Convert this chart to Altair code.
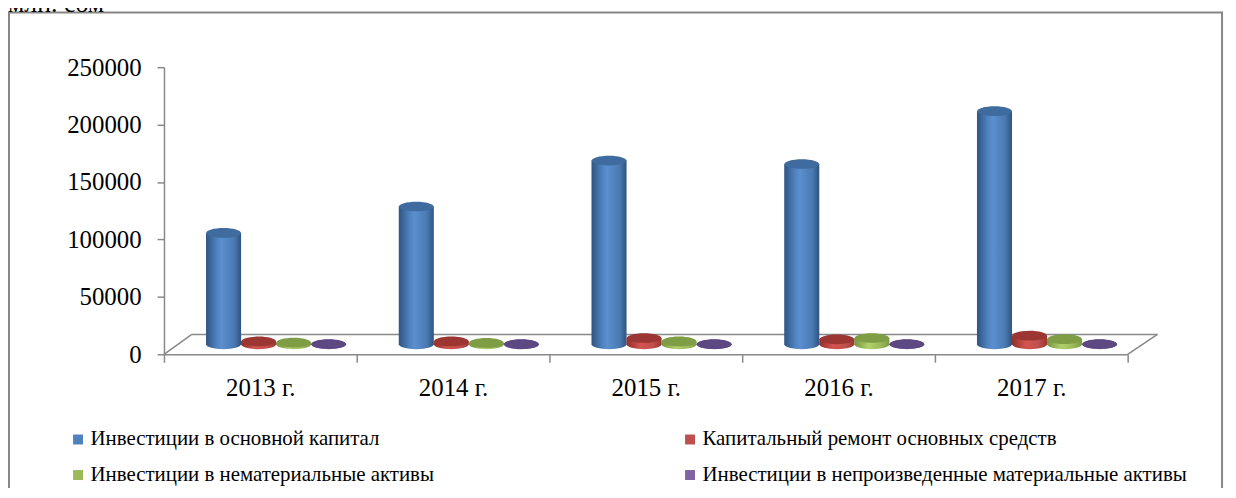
import altair as alt
import pandas as pd

# ---------------- data ----------------
years = ["2013 г.", "2014 г.", "2015 г.", "2016 г.", "2017 г."]
series_names = [
    "Инвестиции в основной капитал",
    "Капитальный ремонт основных средств",
    "Инвестиции в нематериальные активы",
    "Инвестиции в непроизведенные материальные активы",
]
fixed_capital = [97000, 120000, 160000, 157000, 203000]
capital_repair = [2500, 2500, 5500, 4300, 7500]
intangible = [1500, 1200, 2500, 5500, 4500]
non_produced = [200, 150, 150, 200, 250]
y_ticks = [0, 50000, 100000, 150000, 200000, 250000]
unit_label = "млн. сом"

series_values = [fixed_capital, capital_repair, intangible, non_produced]

# ---------------- styles ----------------
base_colors = ["#4F81BD", "#C0504D", "#9BBB59", "#8064A2"]
cap_colors = ["#3F6B9E", "#9C3633", "#7E9D45", "#5E4882"]
side_stops = [
    [("#2E5482", 0), ("#4F81BD", 0.3), ("#5B8FD0", 0.45), ("#4A7AB2", 0.8), ("#2E5380", 1)],
    [("#8F2F2C", 0), ("#D45450", 0.4), ("#C0504D", 0.75), ("#9A3532", 1)],
    [("#77933F", 0), ("#AFD16C", 0.4), ("#9BBB59", 0.75), ("#7C9A43", 1)],
    [("#5B4378", 0), ("#9479BB", 0.4), ("#8064A2", 0.75), ("#5E477C", 1)],
]
FONT = "Liberation Serif"
AXIS_GRAY = "#898989"
ELLIPSE = ("M -1 0 C -1 -0.1546 -0.5523 -0.28 0 -0.28 C 0.5523 -0.28 1 -0.1546 1 0 "
           "C 1 0.1546 0.5523 0.28 0 0.28 C -0.5523 0.28 -1 0.1546 -1 0 Z")
W, H = 970, 289
BAR_W = 35
DEPTH_SHIFT = 8700  # cylinders stand in the middle of the 3D floor (about 10 px up)

rows = []
for s, vals in zip(series_names, series_values):
    for yr, v in zip(years, vals):
        rows.append({"year": yr, "series": s, "value": v})
df = pd.DataFrame(rows)
one = pd.DataFrame({"k": [0]})

x_enc = alt.X(
    "year:N",
    sort=years,
    scale=alt.Scale(domain=years, paddingInner=0, paddingOuter=0),
    axis=alt.Axis(
        title=None, labelAngle=0, labelFont=FONT, labelFontSize=25, labelColor="black",
        domainColor=AXIS_GRAY, domainWidth=1.5, tickColor=AXIS_GRAY, tickWidth=1.5,
        tickSize=8, tickBand="extent", labelPadding=13, grid=False,
    ),
)
xoff_enc = alt.XOffset(
    "series:N", sort=series_names,
    scale=alt.Scale(domain=series_names, paddingInner=0, paddingOuter=0.75, align=0.8),
)
y_scale = alt.Scale(domain=[0, 250000], nice=False)
y_axis = alt.Axis(
    title=None, values=y_ticks, format="d", labelFont=FONT, labelFontSize=25,
    labelColor="black", domainColor=AXIS_GRAY, domainWidth=1.5, tickColor=AXIS_GRAY,
    tickWidth=1.5, tickSize=7, labelPadding=16, grid=False,
)
cyl_scale = alt.Scale(domain=[-DEPTH_SHIFT, 250000 - DEPTH_SHIFT], nice=False, zero=False)


def grad(stops):
    return alt.Gradient(
        gradient="linear",
        stops=[alt.GradientStop(color=c, offset=o) for c, o in stops],
        x1=0, x2=1, y1=0, y2=0,
    )


frame_layers = []
# frame around the whole chart
frame_layers.append(
    alt.Chart(one).mark_rect(fillOpacity=0, stroke="#868686", strokeWidth=2).encode(
        x=alt.value(-156), x2=alt.value(1065), y=alt.value(-55), y2=alt.value(470)
    )
)
# unit label above the frame
frame_layers.append(
    alt.Chart(one).mark_text(
        text=unit_label, align="left", baseline="alphabetic", font=FONT, fontSize=26, color="black"
    ).encode(x=alt.value(-157), y=alt.value(-56))
)
# 3D floor outline (decoration)
floor = alt.Chart(one).mark_rule(color=AXIS_GRAY, strokeWidth=1.5)
frame_layers.append(floor.encode(x=alt.value(28), x2=alt.value(1000), y=alt.value(H - 20), y2=alt.value(H - 20)))
frame_layers.append(floor.encode(x=alt.value(0), x2=alt.value(28), y=alt.value(H), y2=alt.value(H - 20)))
frame_layers.append(floor.encode(x=alt.value(W), x2=alt.value(1000), y=alt.value(H), y2=alt.value(H - 20)))

# legend + axis carrier (invisible marks)
frame_layers.append(
    alt.Chart(df).mark_square(size=0, opacity=1).encode(
        x=x_enc, xOffset=xoff_enc,
        y=alt.Y("value:Q", scale=y_scale, axis=y_axis),
        color=alt.Color(
            "series:N", sort=series_names,
            scale=alt.Scale(domain=series_names, range=base_colors),
            legend=alt.Legend(
                title=None, orient="none", legendX=-97, legendY=364, columns=2,
                direction="horizontal", labelFont=FONT, labelFontSize=21, labelColor="black",
                labelLimit=700, symbolType="square", symbolSize=100, symbolStrokeWidth=0,
                symbolOpacity=1, labelOffset=2, columnPadding=247, rowPadding=14, padding=0,
            ),
        ),
    )
)

# cylinders
cyl_layers = []
for i, s in enumerate(series_names):
    base = alt.Chart(df).transform_filter(alt.datum.series == s)
    g = grad(side_stops[i])
    bottom = base.mark_point(
        shape=ELLIPSE, filled=True, size=BAR_W * BAR_W, opacity=1, color=g,
    ).encode(x=x_enc, xOffset=xoff_enc, y=alt.Y(datum=0, scale=cyl_scale, axis=None))
    side = base.mark_bar(color=g, opacity=1).encode(
        x=x_enc, xOffset=xoff_enc,
        y=alt.Y("value:Q", stack=None, scale=cyl_scale, axis=None),
        y2=alt.Y2(datum=0),
    )
    top = base.mark_point(
        shape=ELLIPSE, filled=True, size=BAR_W * BAR_W, opacity=1, color=cap_colors[i],
    ).encode(x=x_enc, xOffset=xoff_enc, y=alt.Y("value:Q", scale=cyl_scale, axis=None))
    cyl_layers += [bottom, side, top]

chart = alt.layer(
    alt.layer(*frame_layers),
    alt.layer(*cyl_layers),
).resolve_scale(y="independent").properties(
    width=W, height=H,
    autosize=alt.AutoSizeParams(type="none"),
    padding={"left": 157, "top": 58, "right": 101, "bottom": 133},
).configure(
    background="white",
    view=alt.ViewConfig(strokeWidth=0, strokeOpacity=0),
)

chart.save("out.html", embed_options={"renderer": "svg", "actions": False})
